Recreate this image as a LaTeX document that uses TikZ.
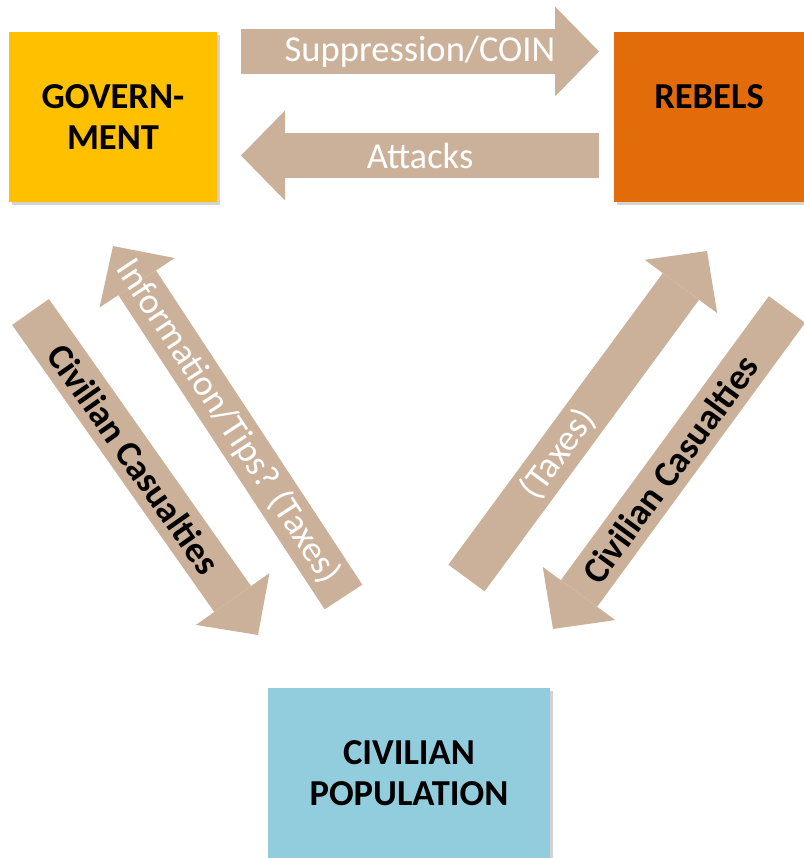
\documentclass[tikz,border=0pt]{standalone}
\usepackage{fontspec}
\setmainfont{Carlito}
\usetikzlibrary{arrows.meta,shadows}
\definecolor{govgold}{RGB}{255,192,0}
\definecolor{rebelorange}{RGB}{227,108,10}
\definecolor{civblue}{RGB}{146,205,221}
\definecolor{flowtan}{RGB}{203,177,153}

\begin{document}
\begin{tikzpicture}[
	box/.style={fill=#1, minimum height=4.25cm, align=center, font=\fontsize{26}{29}\selectfont\bfseries,
		drop shadow={shadow xshift=0.08cm, shadow yshift=-0.08cm, opacity=0.35}},
	flow/.style={flowtan, line width=1.125cm, -{Triangle[width=2.25cm, length=1.1cm, line width=0pt]}},
	flowtext/.style={sloped, font=\fontsize{26}{30}\selectfont, text=white},
	flowbold/.style={sloped, font=\fontsize{26}{30}\selectfont\bfseries, text=black}
]
	\useasboundingbox (0, 0) rectangle (20.1, 21.45);
	% the three actors
	\node[box=govgold, minimum width=5.2cm] (gov) at (2.825, 18.525) {GOVERN-\\MENT};
	\node[box=rebelorange, minimum width=4.75cm] (rebels) at (17.725, 18.525) {REBELS\\\mbox{}};
	\node[box=civblue, minimum width=7.05cm] (civ) at (10.225, 2.125) {CIVILIAN\\POPULATION};
	% ends of the flows
	\coordinate (supTail) at (6.025, 20.1625);
	\coordinate (supTip) at (14.975, 20.1625);
	\coordinate (attTail) at (14.975, 17.5625);
	\coordinate (attTip) at (6.025, 17.5625);
	\coordinate (govCasTail) at (0.7625, 13.65);
	\coordinate (govCasTip) at (6.45, 5.575);
	\coordinate (infoTail) at (8.5875, 6.525);
	\coordinate (infoTip) at (2.825, 15.3);
	\coordinate (taxTail) at (11.6625, 7.0);
	\coordinate (taxTip) at (17.675, 15.175);
	\coordinate (rebCasTail) at (19.675, 13.7125);
	\coordinate (rebCasTip) at (13.825, 5.725);
	% flows
	\draw[flow] (supTail) -- (supTip) node[midway, flowtext] {Suppression/COIN};
	\draw[flow] (attTail) -- (attTip) node[midway, flowtext] {Attacks};
	\draw[flow] (govCasTail) -- (govCasTip) node[pos=0.455, flowbold] {Civilian Casualties};
	\draw[flow] (infoTail) -- (infoTip) node[midway, flowtext] {Information/Tips? (Taxes)};
	\draw[flow] (taxTail) -- (taxTip) node[pos=0.38, flowtext] {(Taxes)};
	\draw[flow] (rebCasTail) -- (rebCasTip) node[midway, flowbold] {Civilian Casualties};
\end{tikzpicture}
\end{document}
